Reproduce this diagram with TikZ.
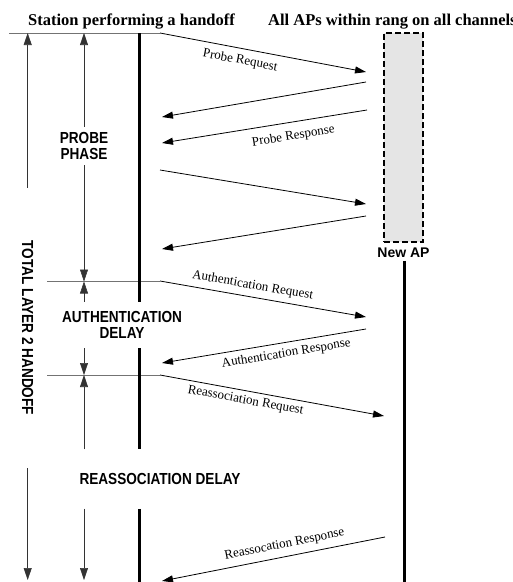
\documentclass[tikz,border=0pt]{standalone}
\usepackage{fontspec}
\setmainfont{Liberation Serif}
\setsansfont{Liberation Sans}
\newfontfamily\phasefont[FakeStretch=0.85]{Liberation Sans}
\usetikzlibrary{arrows.meta,positioning,calc}

\begin{document}
\begin{tikzpicture}[
  x=1pt, y=1pt,
  heading/.style={font=\bfseries\fontsize{16.5}{18}\selectfont, anchor=base, inner sep=0pt},
  phase/.style={font=\phasefont\bfseries\fontsize{16}{16.5}\selectfont, align=center},
  msglabel/.style={font=\fontsize{13}{15}\selectfont, sloped, inner sep=1pt},
  msg/.style={-{Triangle[length=11pt,width=7pt]}, line width=0.8pt},
  dim/.style={-{Triangle[length=12pt,width=8pt]}, line width=0.6pt, draw=black!80, fill=black},
  life/.style={line width=2.6pt},
  bound/.style={draw=black!55, line width=1pt}
]
\useasboundingbox (0,0) rectangle (513,-582);
\node[heading] (stahead) at (131.5,-25) {Station performing a handoff};
\node[heading, anchor=base west] (aphead) at (268,-25) {All APs within rang on all channels};
\node[draw, dash pattern=on 6pt off 3pt, line width=1.4pt, fill=black!10, minimum width=39pt, minimum height=209pt, inner sep=0pt] (newap) at (403.5,-137.5) {};
\node[font=\sffamily\bfseries\fontsize{14}{16}\selectfont, inner sep=1pt, below=4pt of newap] (aplabel) {New AP};
\node[phase, inner ysep=5pt] (probe) at (84,-146) {PROBE\\PHASE};
\node[phase, inner ysep=9pt] (auth) at (122,-325) {AUTHENTICATION\\DELAY};
\node[phase, inner ysep=24pt] (reas) at (160,-479) {REASSOCIATION DELAY};
\node[phase, rotate=-90, inner xsep=53pt] (total) at (27.7,-328) {TOTAL LAYER 2 HANDOFF};
% boundaries and lifelines
\coordinate (t0) at (9,-33);
\coordinate (t1) at (160,-33);
\coordinate (a0) at (47,-281.5);
\coordinate (a1) at (160,-281.5);
\coordinate (r0) at (47,-375);
\coordinate (r1) at (160,-375);
\coordinate (bot) at (0,-580);
\coordinate (sta0) at (139.5,-33);
\coordinate (staend) at (139.5,-582);
\coordinate (apend) at (404.5,-582);
\draw[bound] (t0) -- (t1);
\draw[bound] (a0) -- (a1);
\draw[bound] (r0) -- (r1);
\draw[life] (sta0) -- (sta0 |- auth.north);
\draw[life] (sta0 |- auth.south) -- (sta0 |- reas.north);
\draw[life] (sta0 |- reas.south) -- (staend);
\draw[life] ($(apend |- aplabel.south)+(0,-2)$) -- (apend);
% phase arrows
\draw[dim] (total.west) -- (total |- t0);
\draw[dim] (total.east) -- (total |- bot);
\draw[dim] (probe.north) -- (probe |- t0);
\draw[dim] (probe.south) -- (probe |- a0);
\draw[dim] (auth.north -| probe) -- (probe |- a0);
\draw[dim] (auth.south -| probe) -- (probe |- r0);
\draw[dim] (reas.north -| probe) -- (probe |- r0);
\draw[dim] (reas.south -| probe) -- (probe |- bot);
% messages
\coordinate (s1) at (160,-33);  \coordinate (e1) at (366,-72);
\coordinate (s2) at (366,-82);  \coordinate (e2) at (162,-117);
\coordinate (s3) at (367,-110); \coordinate (e3) at (162,-143);
\coordinate (s4) at (160,-170); \coordinate (e4) at (366,-204);
\coordinate (s5) at (366,-216); \coordinate (e5) at (162,-249);
\coordinate (s6) at (160,-281); \coordinate (e6) at (366,-317);
\coordinate (s7) at (366,-329); \coordinate (e7) at (162,-363);
\coordinate (s8) at (160,-375); \coordinate (e8) at (384,-416);
\coordinate (s9) at (385,-537); \coordinate (e9) at (162,-581);
\draw[msg] (s1) -- node[msglabel, below=5pt, pos=0.4] {Probe Request} (e1);
\draw[msg] (s2) -- (e2);
\draw[msg] (s3) -- node[msglabel, below=7pt, pos=0.37] {Probe Response} (e3);
\draw[msg] (s4) -- (e4);
\draw[msg] (s5) -- (e5);
\draw[msg] (s6) -- node[msglabel, above=4pt, pos=0.44] {Authentication Request} (e6);
\draw[msg] (s7) -- node[msglabel, below=4pt, pos=0.4] {Authentication Response} (e7);
\draw[msg] (s8) -- node[msglabel, below=3pt, pos=0.39] {Reassociation Request} (e8);
\draw[msg] (s9) -- node[msglabel, above=5pt, pos=0.44] {Reassocation Response} (e9);
\end{tikzpicture}
\end{document}
